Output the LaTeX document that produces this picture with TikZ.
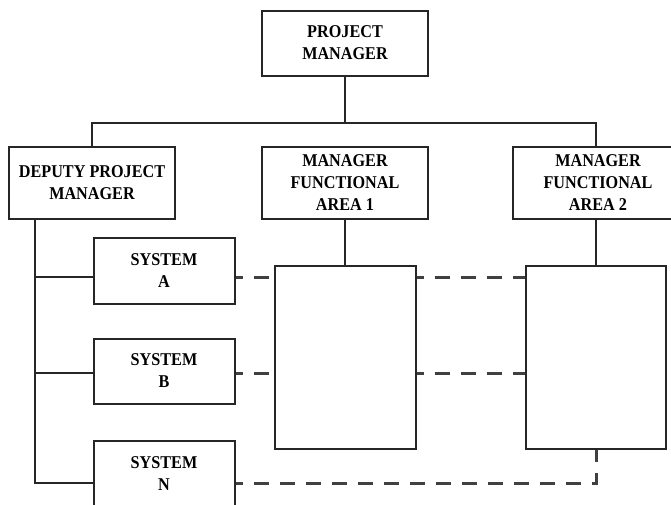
\documentclass[tikz,border=0pt]{standalone}
\usepackage{fontspec}
\setmainfont[FakeStretch=0.9]{Liberation Serif}
\usepackage{tikz}
\usetikzlibrary{calc}

\begin{document}
\begin{tikzpicture}[x=1pt,y=-1pt,
  box/.style={draw=black!85, line width=2pt, align=center, inner sep=0pt,
    font=\fontsize{18}{22}\selectfont\bfseries, text=black},
  wire/.style={black!85, line width=2pt},
  link/.style={black!75, line width=3pt, dash pattern=on 15pt off 11pt, dash phase=8pt}]
\useasboundingbox (0,0) rectangle (671,504);

\node [box, minimum width=166pt, minimum height=65pt] (pm) at (345,43) {PROJECT\\MANAGER};
\node [box, minimum width=166pt, minimum height=72pt] (dpm) at (92,183) {DEPUTY PROJECT\\MANAGER};
\node [box, minimum width=166pt, minimum height=72pt] (fa1) at (345,183) {MANAGER\\FUNCTIONAL\\AREA 1};
\node [box, minimum width=170pt, minimum height=72pt] (fa2) at (598,183) {MANAGER\\FUNCTIONAL\\AREA 2};

\node [box, minimum width=141pt, minimum height=66pt] (sysA) at (164,271) {SYSTEM\\A};
\node [box, minimum width=141pt, minimum height=65pt] (sysB) at (164,371) {SYSTEM\\B};
\node [box, minimum width=141pt, minimum height=66pt] (sysN) at (164,474) {SYSTEM\\N};

\node [box, minimum width=141pt, minimum height=183pt] (big1) at (345,357) {};
\node [box, minimum width=140pt, minimum height=183pt] (big2) at (596,357) {};

% levels of the bus and of the links
\coordinate (bus) at (0,123);
\coordinate (la) at (0,277);
\coordinate (lb) at (0,373);
\coordinate (ln) at (0,483);
\coordinate (dtrunk) at ([xshift=27pt]dpm.south west);

\draw [wire] (pm.south) -- (pm.south |- bus);
\draw [wire] (dpm.north) |- (big2.north |- bus) -- (big2.north |- fa2.north);
\draw [wire] (fa1.south) -- (big1.north);
\draw [wire] (big2.north |- fa2.south) -- (big2.north);

\draw [wire] (dtrunk) |- (sysN.west |- ln);
\draw [wire] (dtrunk |- la) -- (sysA.west |- la);
\draw [wire] (dtrunk |- lb) -- (sysB.west |- lb);

\draw [link] (sysA.east |- la) -- (big1.west |- la);
\draw [link] (big1.east |- la) -- (big2.west |- la);
\draw [link] (sysB.east |- lb) -- (big1.west |- lb);
\draw [link] (big1.east |- lb) -- (big2.west |- lb);
\draw [link] (sysN.east |- ln) -| (big2.south);

\end{tikzpicture}
\end{document}
